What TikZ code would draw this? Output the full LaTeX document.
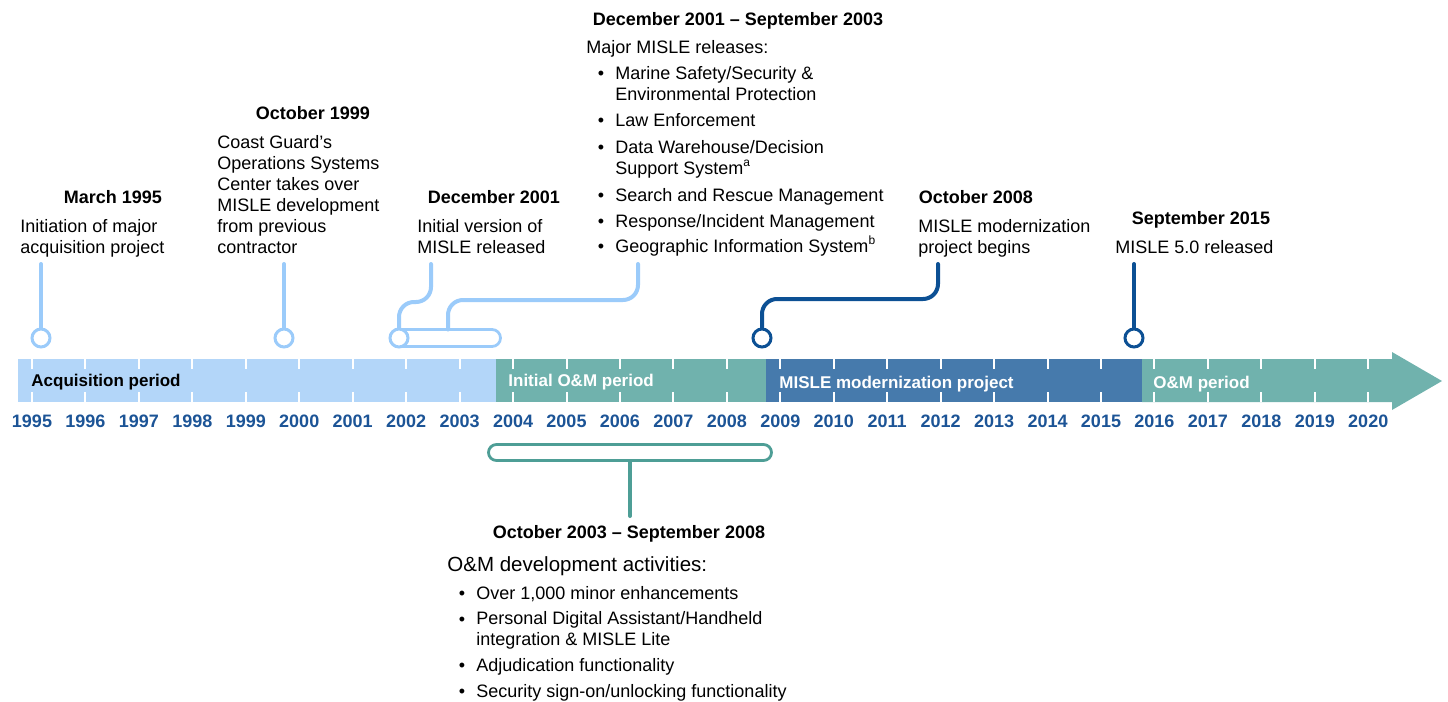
\documentclass[tikz,border=0pt]{standalone}
\usepackage{fontspec}
\setmainfont{Liberation Sans}
\definecolor{acqfill}{HTML}{B3D6F9}
\definecolor{lightline}{HTML}{9BCBFA}
\definecolor{tealfill}{HTML}{70B2AD}
\definecolor{tealline}{HTML}{4E9E96}
\definecolor{modblue}{HTML}{467AAC}
\definecolor{darkblue}{HTML}{0C5094}
\definecolor{yearblue}{HTML}{1C5496}
\tikzset{
  body/.style={font=\fontsize{9}{10.5}\selectfont, inner sep=0pt, align=left, anchor=base west},
  ttl/.style={font=\bfseries\fontsize{9}{10.5}\selectfont, inner sep=0pt, anchor=base},
  yearlbl/.style={font=\bfseries\fontsize{9}{10.5}\selectfont, text=yearblue, inner sep=0pt, anchor=base},
  barlbl/.style={font=\bfseries\fontsize{8.5}{10}\selectfont, inner sep=0pt, anchor=base west},
  bul/.style={font=\fontsize{9}{10.5}\selectfont, inner sep=0pt, anchor=base},
  marker/.style={circle, draw=#1, fill=white, line width=1.5pt, minimum size=9pt, inner sep=0pt},
  pill/.style={rectangle, draw=#1, line width=1.4pt, inner sep=0pt},
  stem/.style={draw=#1, line width=2pt, line cap=round},
  tick/.style={draw=white, line width=1pt}
}
\begin{document}
\begin{tikzpicture}[x=0.5pt, y=-0.5pt]
\useasboundingbox (0,0) rectangle (1448,702);
% timeline bar
\fill[acqfill] (18,359) rectangle (496,402);
\fill[tealfill] (496,359) rectangle (766,402);
\fill[modblue] (766,359) rectangle (1142,402);
\fill[tealfill] (1142,359) -- (1392,359) -- (1392,352) -- (1442,381) -- (1392,410) -- (1392,402) -- (1142,402) -- cycle;
\foreach \yr in {1995,...,2020}{
  \pgfmathsetmacro{\xx}{32+53.45*(\yr-1995)}
  \draw[tick] (\xx,359) -- (\xx,369);
  \draw[tick] (\xx,392) -- (\xx,402);
  \node[yearlbl] (yl\yr) at (\xx,427) {\yr};
}
\node[barlbl, text=black] (lacq) at (31,386) {Acquisition period};
\node[barlbl, text=white] (linit) at (508,386) {Initial O\&M period};
\node[barlbl, text=white] (lmod) at (779,388) {MISLE modernization project};
\node[barlbl, text=white] (lom) at (1153,388) {O\&M period};
% pills
\node[pill=lightline, minimum width=55pt, minimum height=8.5pt, rounded corners=4.25pt] (pill1) at (445.5,338) {};
\node[pill=tealline, minimum width=141.5pt, minimum height=8pt, rounded corners=4pt] (pill2) at (630,452.5) {};
% markers
\node[marker=lightline] (m1) at (41,338) {};
\node[marker=lightline] (m2) at (284,338) {};
\node[marker=lightline] (m3) at (399,338) {};
\node[marker=darkblue] (m5) at (762,338) {};
\node[marker=darkblue] (m6) at (1134,338) {};
% stem ends
\coordinate (t1) at (41,264);
\coordinate (t2) at (284,264);
\coordinate (t3) at (431,264);
\coordinate (t4) at (638,264);
\coordinate (p1) at (448,329.5);
\coordinate (t5) at (938,264);
\coordinate (t6) at (1134,264);
\coordinate (b7) at (630,516);
\draw[stem=lightline] (t1) -- (m1.north);
\draw[stem=lightline] (t2) -- (m2.north);
\draw[stem=lightline, rounded corners=7.5pt] (t3) -- ++(0,38) -| (m3.north);
\draw[stem=lightline, rounded corners=7.5pt] (t4) -- ++(0,36) -| (p1);
\draw[stem=darkblue, rounded corners=7.5pt] (t5) -- ++(0,35) -| (m5.north);
\draw[stem=darkblue] (t6) -- (m6.north);
\draw[stem=tealline] (pill2.south) -- (b7);
% March 1995
\node[ttl] (h1) at (113,203) {March 1995};
\node[body] (d1) at (20,253) {Initiation of major\\acquisition project};
% October 1999
\node[ttl] (h2) at (313,119) {October 1999};
\node[body] (d2) at (217,253) {Coast Guard’s\\Operations Systems\\Center takes over\\MISLE development\\from previous\\contractor};
% December 2001
\node[ttl] (h3) at (494,203) {December 2001};
\node[body] (d3) at (417,253) {Initial version of\\MISLE released};
% December 2001 - September 2003
\node[ttl] (h4) at (738,25) {December 2001 – September 2003};
\node[body] (d4) at (586,53) {Major MISLE releases:};
\node[bul] (b4a) at (601,79) {\textbullet};
\node[body] (i4a) at (615,100) {Marine Safety/Security \&\\Environmental Protection};
\node[bul] (b4b) at (601,126) {\textbullet};
\node[body] (i4b) at (615,126) {Law Enforcement};
\node[bul] (b4c) at (601,153) {\textbullet};
\node[body] (i4c) at (615,174) {Data Warehouse/Decision\\Support System\textsuperscript{a}};
\node[bul] (b4d) at (601,201) {\textbullet};
\node[body] (i4d) at (615,201) {Search and Rescue Management};
\node[bul] (b4e) at (601,227) {\textbullet};
\node[body] (i4e) at (615,227) {Response/Incident Management};
\node[bul] (b4f) at (601,252.5) {\textbullet};
\node[body] (i4f) at (615,252.5) {Geographic Information System\textsuperscript{b}};
% October 2008
\node[ttl] (h5) at (976,203) {October 2008};
\node[body] (d5) at (918,253) {MISLE modernization\\project begins};
% September 2015
\node[ttl] (h6) at (1201,224) {September 2015};
\node[body] (d6) at (1115,253) {MISLE 5.0 released};
% October 2003 - September 2008
\node[ttl] (h7) at (629,538.5) {October 2003 – September 2008};
\node[body, font=\fontsize{10.25}{12}\selectfont] (d7) at (447,571) {O\&M development activities:};
\node[bul] (b7a) at (462,599) {\textbullet};
\node[body] (i7a) at (476,599) {Over 1,000 minor enhancements};
\node[bul] (b7b) at (462,625) {\textbullet};
\node[body] (i7b) at (476,645) {Personal Digital Assistant/Handheld\\integration \& MISLE Lite};
\node[bul] (b7c) at (462,671) {\textbullet};
\node[body] (i7c) at (476,671) {Adjudication functionality};
\node[bul] (b7d) at (462,697) {\textbullet};
\node[body] (i7d) at (476,697) {Security sign-on/unlocking functionality};
\end{tikzpicture}
\end{document}
